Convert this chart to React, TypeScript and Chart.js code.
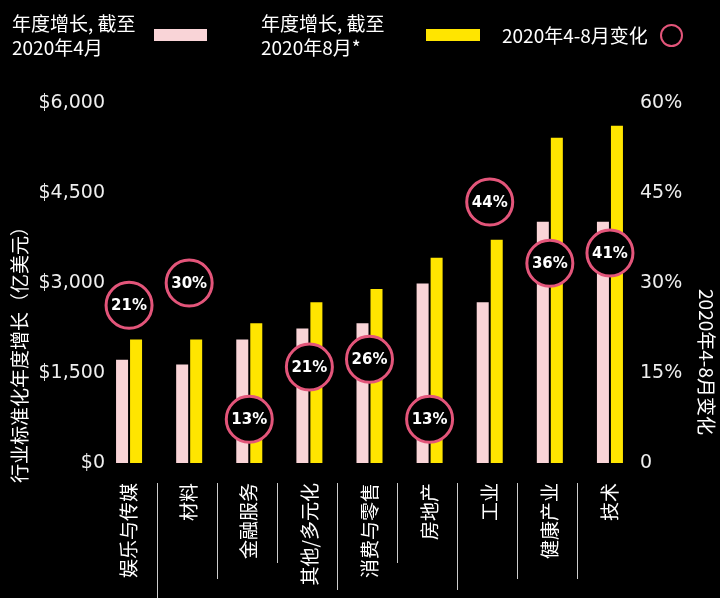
import React, { useEffect, useRef } from "react";
import { Chart, registerables } from "chart.js";

Chart.register(...registerables);

const categories = ["娱乐与传媒", "材料", "金融服务", "其他/多元化", "消费与零售", "房地产", "工业", "健康产业", "技术"];
const growthApr2020 = [1720, 1640, 2060, 2240, 2330, 2990, 2680, 4020, 4020];
const growthAug2020 = [2060, 2060, 2330, 2680, 2900, 3420, 3720, 5420, 5620];
const changePct = [21, 30, 13, 21, 26, 13, 44, 36, 41];
// level (right-axis %) at which each change badge is placed in the reference
const badgeLevel = [26.3, 30, 7.3, 16, 17.3, 7.3, 43.5, 33.3, 35];
const leftTicks = [0, 1500, 3000, 4500, 6000];
const rightTicks = [0, 15, 30, 45, 60];

const legendLabels = ["年度增长, 截至\n2020年4月", "年度增长, 截至\n2020年8月*", "2020年4-8月变化"];
const leftTitle = "行业标准化年度增长（亿美元）";
const rightTitle = "2020年4-8月变化";

const PINK = "#f9d4d7";
const YELLOW = "#ffe500";
const RING = "#e3557a";
const CJK = '"Noto Sans CJK SC", sans-serif';
const NUM = '"DejaVu Sans", sans-serif';

const separatorEnds = [598, 579, 563, 590, 563, 590, 579, 579];

const formatDollar = (v: number) => "$" + v.toLocaleString("en-US");

const extrasPlugin = {
  id: "extras",
  afterDatasetsDraw(chart: any) {
    const ctx = chart.ctx;
    const meta = chart.getDatasetMeta(2);
    ctx.save();
    ctx.fillStyle = "#ffffff";
    ctx.font = `bold 15px ${NUM}`;
    ctx.textAlign = "center";
    ctx.textBaseline = "middle";
    meta.data.forEach((pt: any, i: number) => {
      ctx.fillText(changePct[i] + "%", pt.x, pt.y + 1);
    });
    ctx.restore();
  },
  afterDraw(chart: any) {
    const ctx = chart.ctx;
    const xs = chart.scales.x;
    const ys = chart.scales.y;
    const area = chart.chartArea;
    ctx.save();
    // left tick labels, placed through the y scale
    ctx.fillStyle = "#eeeeee";
    ctx.font = `19px ${NUM}`;
    ctx.textAlign = "right";
    ctx.textBaseline = "middle";
    leftTicks.forEach((v) => {
      ctx.fillText(formatDollar(v), area.left + 6, ys.getPixelForValue(v));
    });
    // category separators
    ctx.strokeStyle = "#cccccc";
    ctx.lineWidth = 1;
    for (let i = 0; i < categories.length - 1; i++) {
      const x = Math.floor((xs.getPixelForValue(i) + xs.getPixelForValue(i + 1)) / 2) - 1.5;
      ctx.beginPath();
      ctx.moveTo(x, area.bottom + 20);
      ctx.lineTo(x, separatorEnds[i]);
      ctx.stroke();
    }
    // axis titles
    ctx.fillStyle = "#ffffff";
    ctx.font = `19px ${CJK}`;
    ctx.textAlign = "center";
    ctx.textBaseline = "middle";
    ctx.save();
    ctx.translate(20, 350);
    ctx.rotate(-Math.PI / 2);
    ctx.fillText(leftTitle, 0, 0);
    ctx.restore();
    ctx.save();
    ctx.translate(706, 362);
    ctx.rotate(Math.PI / 2);
    ctx.fillText(rightTitle, 0, 0);
    ctx.restore();
    ctx.restore();
  },
};

export default function App() {
  const canvasRef = useRef<HTMLCanvasElement | null>(null);

  useEffect(() => {
    const canvas = canvasRef.current;
    if (!canvas) return;
    const chart = new Chart(canvas, {
      type: "bar",
      data: {
        labels: categories,
        datasets: [
          {
            type: "bar",
            label: legendLabels[0],
            data: growthApr2020,
            backgroundColor: PINK,
            yAxisID: "y",
            categoryPercentage: 0.466,
            barPercentage: 0.857,
            order: 2,
          },
          {
            type: "bar",
            label: legendLabels[1],
            data: growthAug2020,
            backgroundColor: YELLOW,
            yAxisID: "y",
            categoryPercentage: 0.466,
            barPercentage: 0.857,
            order: 2,
          },
          {
            type: "line",
            label: legendLabels[2],
            data: badgeLevel,
            yAxisID: "y2",
            showLine: false,
            pointRadius: 23,
            pointHoverRadius: 23,
            pointBorderWidth: 3,
            pointBackgroundColor: "#000000",
            pointBorderColor: RING,
            clip: false,
            order: 0,
          } as any,
        ],
      },
      options: {
        responsive: false,
        animation: false,
        layout: { padding: { top: 103, left: 0, right: 0, bottom: 0 } },
        plugins: { legend: { display: false }, tooltip: { enabled: false } },
        scales: {
          x: {
            offset: true,
            grid: { display: false, drawTicks: false },
            border: { display: false },
            ticks: {
              color: "#ffffff",
              font: { family: CJK, size: 19 },
              maxRotation: 90,
              minRotation: 90,
              autoSkip: false,
              padding: 20,
            },
            afterFit: (s: any) => {
              s.height = 135;
            },
          },
          y: {
            position: "left",
            min: 0,
            max: 6000,
            afterBuildTicks: (s: any) => {
              s.ticks = leftTicks.map((v) => ({ value: v }));
            },
            grid: { display: false, drawTicks: false },
            border: { display: false },
            ticks: { display: false },
            afterFit: (s: any) => {
              s.width = 99;
            },
          },
          y2: {
            position: "right",
            min: 0,
            max: 60,
            afterBuildTicks: (s: any) => {
              s.ticks = rightTicks.map((v) => ({ value: v }));
            },
            grid: { display: false, drawTicks: false },
            border: { display: false },
            ticks: {
              color: "#eeeeee",
              font: { family: NUM, size: 19 },
              padding: 0,
              callback: (v: any) => (Number(v) === 0 ? "0" : v + "%"),
            },
            afterFit: (s: any) => {
              s.width = 80;
            },
          },
        },
      },
      plugins: [extrasPlugin],
    });
    return () => chart.destroy();
  }, []);

  const textStyle: React.CSSProperties = {
    position: "absolute",
    color: "#ffffff",
    fontFamily: CJK,
    fontSize: 19,
    lineHeight: "24.5px",
    whiteSpace: "pre",
  };

  return (
    <div style={{ position: "absolute", left: 0, top: 0, width: 720, height: 598, background: "#000000", overflow: "hidden" }}>
      <canvas ref={canvasRef} width={720} height={598} style={{ position: "absolute", left: 0, top: 0 }} />
      <div style={{ ...textStyle, left: 12, top: 10.5 }}>{legendLabels[0]}</div>
      <div style={{ position: "absolute", left: 154, top: 29, width: 53, height: 12, background: PINK }} />
      <div style={{ ...textStyle, left: 261, top: 10.5 }}>{legendLabels[1]}</div>
      <div style={{ position: "absolute", left: 426, top: 29, width: 54, height: 12, background: YELLOW }} />
      <div style={{ ...textStyle, left: 502, top: 23 }}>{legendLabels[2]}</div>
      <div
        style={{
          position: "absolute",
          left: 660,
          top: 24,
          width: 19,
          height: 19,
          borderRadius: "50%",
          border: `2.5px solid ${RING}`,
        }}
      />
    </div>
  );
}
